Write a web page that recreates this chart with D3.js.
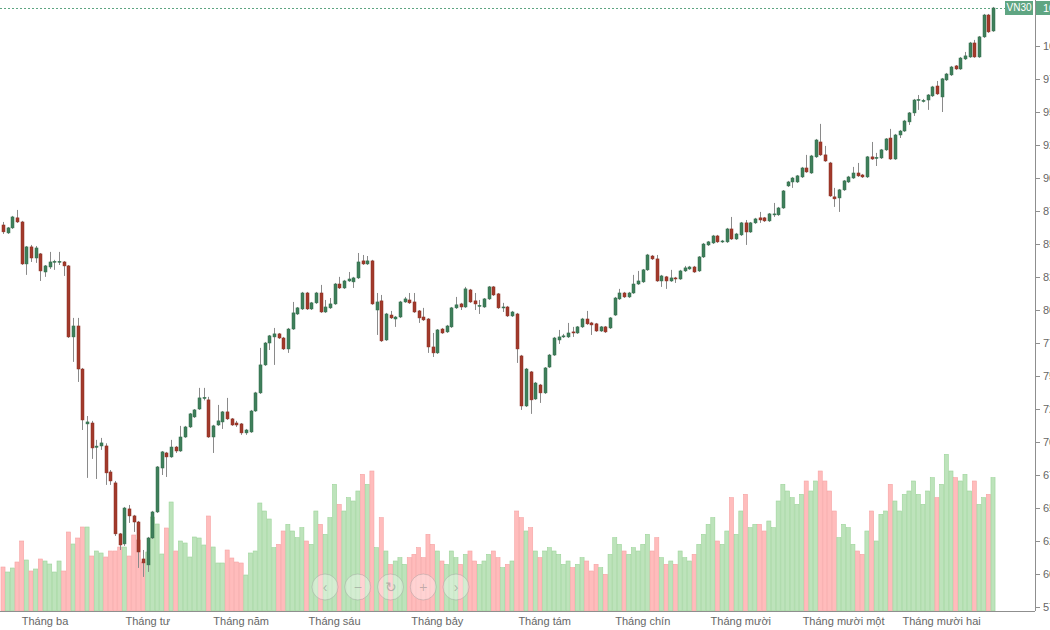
<!DOCTYPE html>
<html>
<head>
<meta charset="utf-8">
<script src="https://cdn.jsdelivr.net/npm/d3@7"></script>
<style>
  body { margin: 0; background: #fff; }
  svg { display: block; font-family: "Liberation Sans", Arial, sans-serif; }
</style>
</head>
<body>
<div id="chart"></div>
<script>
// VN30 daily candles (one entry per trading day)
const open = [864.4,858.4,862.2,869.8,866.7,834.9,847.8,839.4,842.5,828.8,832.6,836.4,836.2,836.4,833.4,779.6,787.9,755.3,713.7,714.4,696.0,697.0,697.0,677.3,669.0,630.4,622.8,649.3,644.0,639.4,611.4,606.9,627.3,647.0,680.3,691.7,688.7,696.2,693.2,703.8,711.4,719.0,725.0,733.0,731.9,703.8,712.9,715.2,722.8,717.5,714.4,713.7,706.9,707.6,723.5,737.2,758.4,775.0,779.6,781.9,778.8,770.5,785.6,797.0,800.8,812.9,800.8,805.4,812.9,798.5,801.6,804.6,819.7,816.7,822.0,821.3,824.3,837.2,834.9,837.2,800.0,806.9,777.3,796.2,793.2,794.7,806.1,807.6,806.1,799.3,794.7,793.2,772.0,767.5,785.6,783.4,787.2,801.6,804.6,802.3,815.2,806.9,802.8,802.3,808.4,817.5,812.2,801.6,802.3,795.5,797.0,765.2,727.3,753.1,732.6,743.2,737.2,756.8,765.9,777.3,779.6,779.6,783.4,782.6,787.2,793.2,790.2,789.5,784.1,787.2,786.4,796.2,808.4,812.9,809.9,812.9,819.7,821.3,830.4,840.9,838.7,822.0,825.1,822.0,824.3,823.5,829.6,831.1,832.6,829.6,840.2,849.3,850.8,856.1,851.6,851.6,861.4,853.8,856.9,866.0,859.1,866.0,869.8,869.8,867.5,872.1,872.1,877.3,894.0,897.0,897.0,900.8,907.6,903.8,916.0,927.3,917.5,911.4,885.7,884.9,891.0,897.0,900.0,903.8,902.3,900.8,916.0,915.2,915.2,921.3,930.3,914.4,932.6,935.6,942.5,949.3,959.1,958.0,959.1,962.2,969.7,961.4,974.3,978.1,984.9,982.6,990.2,991.7,1002.3,991.7,1006.9,1023.5,1011.4];
const high = [866.7,862.9,871.3,875.8,867.5,848.5,849.3,848.5,843.2,834.1,844.0,838.0,844.0,837.1,834.1,794.0,794.0,756.1,719.7,716.0,701.6,703.1,699.0,678.8,670.5,631.1,650.8,652.3,644.8,640.2,618.2,628.1,647.8,681.8,693.2,692.5,701.6,697.0,712.2,712.2,722.0,725.0,741.0,741.0,734.2,713.0,728.1,723.5,733.4,718.2,716.0,714.4,709.9,724.3,738.0,771.3,775.8,781.1,786.4,782.6,779.6,786.4,806.1,802.3,813.7,813.7,806.1,813.7,819.0,807.6,809.1,820.5,825.1,822.8,828.8,825.1,843.2,841.7,840.9,838.0,812.9,811.4,797.8,799.3,795.5,806.9,809.9,812.9,812.9,800.0,801.6,793.9,782.6,785.6,786.4,788.7,802.3,809.9,805.4,817.5,816.0,812.9,807.6,809.1,818.2,818.2,812.9,805.4,803.1,799.3,797.8,766.0,756.1,753.8,745.5,744.0,756.8,766.7,779.6,784.9,781.9,790.2,787.2,787.9,794.0,799.3,791.0,790.2,787.9,787.9,794.7,809.9,816.0,813.7,813.7,826.6,829.6,831.1,842.5,841.7,841.7,826.6,825.8,830.4,825.1,830.4,833.4,833.4,833.4,840.9,850.8,852.3,856.9,856.9,853.1,862.2,870.5,858.4,866.7,868.2,866.7,869.8,874.3,870.5,873.5,881.1,878.1,890.9,897.8,900.8,902.3,908.4,917.5,917.5,929.6,941.0,924.3,912.2,892.5,891.7,898.5,901.6,908.4,911.4,903.1,916.7,927.3,919.0,922.0,930.3,937.2,933.4,936.4,944.0,950.0,959.9,962.9,959.9,963.6,969.8,973.5,975.8,979.6,984.9,985.6,991.7,995.5,1003.1,1004.6,1007.6,1024.3,1024.3,1029.6];
const low = [857.6,857.6,861.4,865.9,834.1,826.6,836.4,835.7,822.0,825.1,831.1,830.4,834.1,825.8,778.8,760.7,745.5,709.1,672.8,687.2,672.0,694.0,667.5,667.5,628.8,618.2,621.3,638.7,631.9,604.6,597.8,601.6,626.5,646.2,675.0,673.5,688.0,691.7,692.5,703.1,710.6,718.2,724.3,731.5,703.1,691.7,712.2,709.9,716.7,712.2,711.4,705.4,705.4,706.9,722.8,736.4,757.6,769.7,758.4,778.0,769.7,767.5,784.9,796.2,800.0,800.0,800.0,804.6,797.8,797.8,800.8,803.9,815.9,815.9,821.3,816.7,823.5,834.1,834.1,803.9,781.1,775.8,776.6,793.2,787.2,793.9,805.4,804.6,797.8,790.2,791.7,767.5,764.4,766.7,781.9,782.6,786.4,800.8,800.0,801.6,805.4,800.0,797.0,801.6,807.6,810.6,800.8,798.5,794.7,794.7,759.9,724.3,726.5,721.3,731.9,729.6,736.4,756.1,765.2,774.3,778.8,778.8,779.6,781.9,786.4,788.7,781.1,783.4,783.4,782.6,785.6,795.5,807.6,809.1,809.1,812.2,819.0,820.5,829.6,837.9,821.3,817.5,816.0,821.3,820.5,822.8,828.8,830.4,828.1,828.8,839.4,848.5,850.0,850.8,850.8,850.8,853.1,853.1,856.1,849.3,858.4,865.2,866.0,866.7,866.7,870.5,871.3,876.6,893.2,892.5,896.2,900.0,903.9,903.1,915.2,916.7,912.2,885.7,878.1,874.3,890.2,896.2,899.3,900.8,900.0,900.0,913.7,909.1,914.4,920.5,913.7,913.7,930.3,934.9,940.2,947.0,951.6,957.2,951.6,961.4,962.9,950.0,973.5,977.3,981.9,981.9,989.4,991.0,991.0,991.0,1006.1,1009.9,1010.7];
const close = [859.2,862.2,870.5,866.7,834.9,847.8,839.4,847.0,829.6,833.4,836.4,836.9,836.9,833.4,779.6,787.9,755.3,716.7,715.2,695.5,696.9,699.3,676.6,670.5,630.4,622.0,650.0,644.0,639.4,616.7,608.4,627.3,647.0,681.1,692.5,688.7,696.2,693.2,703.8,711.4,721.3,724.3,733.4,733.8,703.8,712.2,716.0,722.8,717.5,712.9,712.9,706.9,709.1,723.5,737.2,758.4,775.0,780.4,781.9,778.8,770.5,785.6,797.8,801.6,812.9,800.8,805.4,812.9,798.5,802.3,804.6,819.7,816.7,822.0,823.5,824.3,836.4,834.9,837.2,804.6,806.1,776.6,797.0,794.0,794.7,806.1,808.4,805.4,798.5,794.0,792.5,772.0,767.5,784.9,782.6,787.9,801.6,803.9,802.3,816.0,806.1,804.6,803.5,808.4,817.5,811.4,801.6,802.3,795.5,798.5,770.5,727.3,755.3,731.9,744.7,737.2,756.1,765.9,778.8,779.6,780.4,782.6,782.6,787.2,793.2,789.5,788.7,784.1,787.2,783.4,794.0,809.1,812.9,809.9,812.9,819.7,822.0,830.4,841.7,838.7,822.0,825.8,822.0,824.3,823.5,829.6,831.9,832.6,828.8,840.2,850.0,851.6,856.1,851.6,852.3,861.4,853.8,857.6,866.0,859.1,866.0,869.0,868.2,867.5,872.8,872.8,877.3,890.2,897.0,900.0,901.6,907.6,904.6,916.7,928.8,917.5,912.9,886.4,884.2,891.0,897.8,900.8,903.8,901.6,900.8,916.0,914.4,915.6,921.3,929.6,914.4,932.6,935.6,943.2,949.3,959.1,959.5,958.8,962.9,969.0,963.7,975.1,978.8,984.1,982.6,990.9,992.5,1002.3,991.7,1006.9,1023.5,1010.7,1028.8];
// volume, millions of shares
const volume = [66,58.5,64.5,73.5,105,76.5,60,63,78,75,70.5,58.5,75,60,118.5,100.5,109.5,126,126,82.5,90,87,81,90,90,96,96,82.5,114,106.5,73.5,88.5,141,130.5,85.5,124.5,163.5,90,105,102,81,111,109.5,99,142.5,96,72,72,91.5,79.5,73.5,72,54,87,90,162,150,138,95,100,120,130,120,110,125,105,100,150,130,115,140,190,160,150,170,165,180,205,190,210,95,140,90,70,75,80,70,80,85,95,80,115,100,90,75,70,90,80,70,85,90,75,70,75,85,90,80,65,70,75,150,140,120,125,90,80,90,95,90,85,70,75,65,70,80,75,60,70,65,55,85,110,100,90,85,95,90,100,115,90,110,80,70,75,70,90,80,75,85,100,115,130,140,105,100,120,170,115,150,175,125,130,130,120,135,125,165,190,180,170,160,175,195,180,195,210,195,180,150,110,130,125,100,90,85,120,150,105,145,150,190,165,150,175,180,195,175,160,180,200,170,190,235,210,200,195,205,180,195,160,170,175,200];
const monthStart = [9, 31, 51, 71, 93, 116, 137, 158, 180, 201];
const monthLabels = ["Tháng ba", "Tháng tư", "Tháng năm", "Tháng sáu", "Tháng bảy", "Tháng tám", "Tháng chín", "Tháng mười", "Tháng mười một", "Tháng mười hai"];
const priceTicks = [575, 600, 625, 650, 675, 700, 725, 750, 775, 800, 825, 850, 875, 900, 925, 950, 975, 1000];
const seriesName = "VN30";

const W = 1050, H = 630;
const plotRight = 1035, plotBottom = 611;

const data = open.map((o, i) => ({ i, o, h: high[i], l: low[i], c: close[i], v: volume[i] }));

const svg = d3.select("#chart").append("svg")
  .attr("width", W).attr("height", H)
  .attr("viewBox", `0 0 ${W} ${H}`);

const x = d3.scaleLinear().domain([0, data.length - 1]).range([3, 993]);
const y = d3.scaleLinear().domain([575, 1000]).range([607, 46]);
const yVol = d3.scaleLinear().domain([0, 300]).range([plotBottom, plotBottom - 200]);

const up = (d) => d.c >= d.o;

// volume bars (behind candles)
const step = x(1) - x(0);
svg.append("g").selectAll("rect").data(data).join("rect")
  .attr("x", (d) => x(d.i) - step / 2 + 0.3)
  .attr("width", step - 0.6)
  .attr("y", (d) => yVol(d.v))
  .attr("height", (d) => plotBottom - yVol(d.v))
  .attr("fill", (d) => (up(d) ? "#bde3bb" : "#ffbcbc"))
  .attr("stroke", (d) => (up(d) ? "#9dd49a" : "#f6a3a3"))
  .attr("stroke-width", 0.6);

// last price line
const lastY = y(close[close.length - 1]);
svg.append("line")
  .attr("x1", 0).attr("x2", 1005)
  .attr("y1", Math.round(lastY) + 0.5)
  .attr("y2", Math.round(lastY) + 0.5)
  .attr("stroke", "#5fa582").attr("stroke-width", 1)
  .attr("stroke-dasharray", "2,2");

// candles
const candle = svg.append("g").selectAll("g").data(data).join("g");
candle.append("line")
  .attr("x1", (d) => Math.round(x(d.i)) + 0.5)
  .attr("x2", (d) => Math.round(x(d.i)) + 0.5)
  .attr("y1", (d) => y(d.h))
  .attr("y2", (d) => y(d.l))
  .attr("stroke", "#8a8a8a").attr("stroke-width", 1);
candle.append("rect")
  .attr("x", (d) => Math.round(x(d.i)) - 1)
  .attr("width", 3)
  .attr("y", (d) => y(Math.max(d.o, d.c)))
  .attr("height", (d) => Math.max(1, Math.abs(y(d.o) - y(d.c))))
  .attr("fill", (d) => (up(d) ? "#3f7f5b" : "#a23a2b"))
  .attr("stroke", (d) => (up(d) ? "#2f6b49" : "#8b2d20"))
  .attr("stroke-width", 0.5);

// y axis (right)
svg.append("line")
  .attr("x1", plotRight + 0.5).attr("x2", plotRight + 0.5)
  .attr("y1", 0).attr("y2", plotBottom)
  .attr("stroke", "#8f8f8f");
const yt = svg.append("g").selectAll("g").data(priceTicks).join("g")
  .attr("transform", (d) => `translate(0,${Math.round(y(d)) + 0.5})`);
yt.append("line").attr("x1", plotRight).attr("x2", plotRight + 5).attr("stroke", "#8f8f8f");
yt.append("text")
  .attr("x", plotRight + 8).attr("dy", "0.35em")
  .attr("font-size", 11).attr("fill", "#666")
  .text((d) => d);

// x axis
svg.append("line")
  .attr("x1", 0).attr("x2", plotRight)
  .attr("y1", plotBottom + 0.5).attr("y2", plotBottom + 0.5)
  .attr("stroke", "#8f8f8f");
svg.append("g").selectAll("text").data(monthStart).join("text")
  .attr("x", (d) => x(d))
  .attr("y", 625)
  .attr("text-anchor", "middle")
  .attr("font-size", 11).attr("fill", "#666")
  .text((d, k) => monthLabels[k]);

// series badge and last price label
svg.append("rect").attr("x", 1005).attr("y", lastY - 7).attr("width", 28).attr("height", 14)
  .attr("fill", "#5fa582");
svg.append("text").attr("x", 1019).attr("y", lastY).attr("dy", "0.35em")
  .attr("text-anchor", "middle").attr("font-size", 10).attr("fill", "#fff").text(seriesName);
svg.append("rect").attr("x", plotRight + 1).attr("y", lastY - 7).attr("width", 60).attr("height", 14)
  .attr("fill", "#5fa582");
svg.append("text").attr("x", plotRight + 8).attr("y", lastY).attr("dy", "0.35em")
  .attr("font-size", 11).attr("fill", "#fff").text(close[close.length - 1].toFixed(2));

// navigation buttons
const btns = ["‹", "−", "↻", "+", "›"];
const bx = d3.scalePoint().domain(d3.range(btns.length)).range([325, 456]);
const bg = svg.append("g").selectAll("g").data(btns).join("g")
  .attr("transform", (d, k) => `translate(${bx(k)},587)`);
bg.append("circle").attr("r", 13)
  .attr("fill", "rgba(255,255,255,0.35)")
  .attr("stroke", "rgba(140,140,140,0.35)");
bg.append("text").attr("text-anchor", "middle").attr("dy", "0.35em")
  .attr("font-size", 14).attr("fill", "rgba(120,120,120,0.45)")
  .text((d) => d);
</script>
</body>
</html>
